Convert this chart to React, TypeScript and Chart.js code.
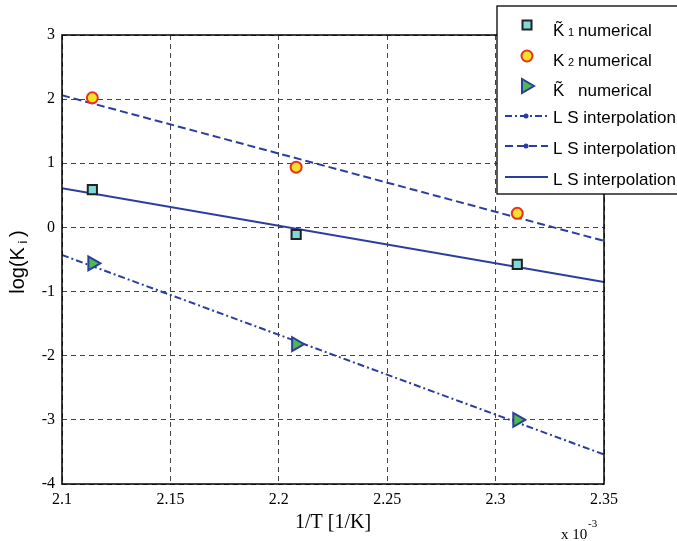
import React, { useEffect, useRef } from 'react';
import { Chart, registerables } from 'chart.js';

Chart.register(...registerables);

// ---- data (x in units of 10^-3 1/K) ----
const invT = [2.114, 2.208, 2.31];
const k1Numerical = [0.59, -0.11, -0.575];
const k2Numerical = [2.02, 0.94, 0.22];
const k3Numerical = [-0.56, -1.82, -3.0];

const fitX = [2.1, 2.35];
const fitK3 = [-0.43, -3.54];
const fitK2 = [2.06, -0.21];
const fitK1 = [0.61, -0.85];

const xTicks = [2.1, 2.15, 2.2, 2.25, 2.3, 2.35];
const yTicks = [-4, -3, -2, -1, 0, 1, 2, 3];

const legendLabels = ['numerical', 'numerical', 'numerical', 'L S interpolation', 'L S interpolation', 'L S interpolation'];

const BLUE = '#2b3d9e';
const DASH_DOT = [7, 3, 2, 3];
const DASHED = [8, 4];

const pts = (xs: number[], ys: number[]) => xs.map((x, i) => ({ x, y: ys[i] }));

const overlayPlugin = {
  id: 'overlay',
  afterDraw(chart: any) {
    const ctx = chart.ctx as CanvasRenderingContext2D;
    const a = chart.chartArea;
    ctx.save();
    // plot box
    ctx.strokeStyle = '#000';
    ctx.lineWidth = 1.5;
    ctx.setLineDash([]);
    ctx.strokeRect(a.left, a.top, a.right - a.left, a.bottom - a.top);

    // x-axis title
    ctx.fillStyle = '#000';
    ctx.font = '20px "Liberation Serif", serif';
    ctx.textAlign = 'center';
    ctx.textBaseline = 'alphabetic';
    ctx.fillText('1/T [1/K]', (a.left + a.right) / 2, 528);

    // x 10^-3
    ctx.textAlign = 'left';
    ctx.font = '15px "Liberation Serif", serif';
    ctx.fillText('x 10', 561, 539);
    ctx.font = '11px "Liberation Serif", serif';
    ctx.fillText('-3', 588, 527);

    // y-axis title
    ctx.save();
    ctx.translate(24, 262);
    ctx.rotate(-Math.PI / 2);
    ctx.font = '20px "Liberation Sans", Arial, sans-serif';
    const p1 = 'log(K';
    const w1 = ctx.measureText(p1).width;
    ctx.font = '13px "Liberation Sans", Arial, sans-serif';
    const wi = ctx.measureText(' i ').width;
    ctx.font = '20px "Liberation Sans", Arial, sans-serif';
    const w3 = ctx.measureText(')').width;
    const total = w1 + wi + w3;
    let x0 = -total / 2;
    ctx.textAlign = 'left';
    ctx.fillText(p1, x0, 0);
    x0 += w1;
    ctx.font = '13px "Liberation Sans", Arial, sans-serif';
    ctx.fillText(' i ', x0, 3);
    x0 += wi;
    ctx.font = '20px "Liberation Sans", Arial, sans-serif';
    ctx.fillText(')', x0, 0);
    ctx.restore();

    // legend box
    const lx = 497, ly = 6, lw = 220, lh = 188;
    ctx.fillStyle = '#fff';
    ctx.fillRect(lx, ly, lw, lh);
    ctx.strokeStyle = '#000';
    ctx.lineWidth = 1.3;
    ctx.strokeRect(lx, ly, lw, lh);

    const mx = 527;
    // row 1: square
    ctx.lineWidth = 2;
    ctx.fillStyle = '#80d8d8';
    ctx.strokeStyle = '#222';
    ctx.fillRect(mx - 4.5, 25 - 4.5, 9, 9);
    ctx.strokeRect(mx - 4.5, 25 - 4.5, 9, 9);
    // row 2: circle
    ctx.beginPath();
    ctx.arc(mx, 56, 5.5, 0, Math.PI * 2);
    ctx.fillStyle = '#f2e32a';
    ctx.fill();
    ctx.strokeStyle = '#e8321e';
    ctx.stroke();
    // row 3: triangle right
    ctx.beginPath();
    ctx.moveTo(mx + 7, 86);
    ctx.lineTo(mx - 5, 86 - 7);
    ctx.lineTo(mx - 5, 86 + 7);
    ctx.closePath();
    ctx.fillStyle = '#4cba4c';
    ctx.fill();
    ctx.strokeStyle = BLUE;
    ctx.stroke();

    // line samples
    const lineRows: [number, number[]][] = [
      [116, DASH_DOT],
      [146, DASHED],
      [177, []],
    ];
    lineRows.forEach(([yy, dash]) => {
      ctx.beginPath();
      ctx.setLineDash(dash);
      ctx.strokeStyle = BLUE;
      ctx.lineWidth = 2;
      ctx.moveTo(505, yy);
      ctx.lineTo(548, yy);
      ctx.stroke();
      ctx.setLineDash([]);
      if (dash.length) {
        ctx.beginPath();
        ctx.arc(526, yy, 2.5, 0, Math.PI * 2);
        ctx.fillStyle = BLUE;
        ctx.fill();
      }
    });

    // legend text
    ctx.fillStyle = '#000';
    ctx.textAlign = 'left';
    const big = '17px "Liberation Sans", Arial, sans-serif';
    const small = '11px "Liberation Sans", Arial, sans-serif';
    const baselines = [36, 66, 96, 123, 154, 185];
    const kNames = ['K\u0303', 'K', 'K\u0303'];
    const subs = ['1', '2', ''];
    for (let i = 0; i < 3; i++) {
      ctx.font = big;
      ctx.fillText(kNames[i], 553, baselines[i]);
      ctx.font = small;
      ctx.fillText(subs[i], 568, baselines[i]);
      ctx.font = big;
      ctx.fillText(legendLabels[i], 578, baselines[i]);
    }
    for (let i = 3; i < 6; i++) {
      ctx.font = big;
      ctx.fillText(legendLabels[i], 553, baselines[i]);
    }
    ctx.restore();
  },
};

export default function App() {
  const ref = useRef<HTMLCanvasElement>(null);
  useEffect(() => {
    if (!ref.current) return;
    const chart = new Chart(ref.current, {
      type: 'scatter',
      data: {
        datasets: [
          {
            label: 'K1 numerical',
            data: pts(invT, k1Numerical),
            pointStyle: 'rect',
            pointRadius: 6.5,
            borderWidth: 2,
            backgroundColor: '#80d8d8',
            borderColor: '#222',
            showLine: false,
            order: 0,
          },
          {
            label: 'K2 numerical',
            data: pts(invT, k2Numerical),
            pointStyle: 'circle',
            pointRadius: 5.5,
            borderWidth: 2,
            backgroundColor: '#f2e32a',
            borderColor: '#e8321e',
            showLine: false,
            order: 0,
          },
          {
            label: 'K numerical',
            data: pts(invT, k3Numerical),
            pointStyle: 'triangle',
            rotation: 90,
            pointRadius: 8,
            borderWidth: 2,
            backgroundColor: '#4cba4c',
            borderColor: BLUE,
            showLine: false,
            order: 0,
          } as any,
          {
            label: 'L S interpolation',
            data: pts(fitX, fitK3),
            showLine: true,
            pointRadius: 0,
            borderColor: BLUE,
            borderWidth: 2,
            borderDash: DASH_DOT,
            order: 1,
          },
          {
            label: 'L S interpolation',
            data: pts(fitX, fitK2),
            showLine: true,
            pointRadius: 0,
            borderColor: BLUE,
            borderWidth: 2,
            borderDash: DASHED,
            order: 1,
          },
          {
            label: 'L S interpolation',
            data: pts(fitX, fitK1),
            showLine: true,
            pointRadius: 0,
            borderColor: BLUE,
            borderWidth: 2,
            order: 1,
          },
        ],
      },
      options: {
        animation: false,
        responsive: false,
        maintainAspectRatio: false,
        layout: { padding: { left: 0, top: 35, right: 73, bottom: 0 } },
        plugins: { legend: { display: false }, tooltip: { enabled: false } },
        scales: {
          x: {
            type: 'linear',
            min: 2.1,
            max: 2.35,
            afterBuildTicks: (s: any) => { s.ticks = xTicks.map((v) => ({ value: v })); },
            afterFit: (s: any) => { s.height = 57; },
            ticks: {
              color: '#000',
              font: { family: '"Liberation Serif", serif', size: 16 },
              padding: 6,
              maxRotation: 0,
              autoSkip: false,
              callback: (v: any) => String(Number(Number(v).toFixed(2))),
            },
            grid: { color: '#444', lineWidth: 1, drawTicks: false },
            border: { display: false, dash: [5, 4] },
          },
          y: {
            type: 'linear',
            min: -4,
            max: 3,
            afterBuildTicks: (s: any) => { s.ticks = yTicks.map((v) => ({ value: v })); },
            afterFit: (s: any) => { s.width = 62; },
            ticks: {
              color: '#000',
              font: { family: '"Liberation Serif", serif', size: 16 },
              padding: 7,
              autoSkip: false,
              callback: (v: any) => String(v),
            },
            grid: { color: '#444', lineWidth: 1, drawTicks: false },
            border: { display: false, dash: [5, 4] },
          },
        },
      },
      plugins: [overlayPlugin],
    });
    return () => chart.destroy();
  }, []);
  return (
    <div style={{ position: 'fixed', left: 0, top: 0, width: 677, height: 541, background: '#fff' }}>
      <canvas ref={ref} width={677} height={541} style={{ width: 677, height: 541 }} />
    </div>
  );
}
